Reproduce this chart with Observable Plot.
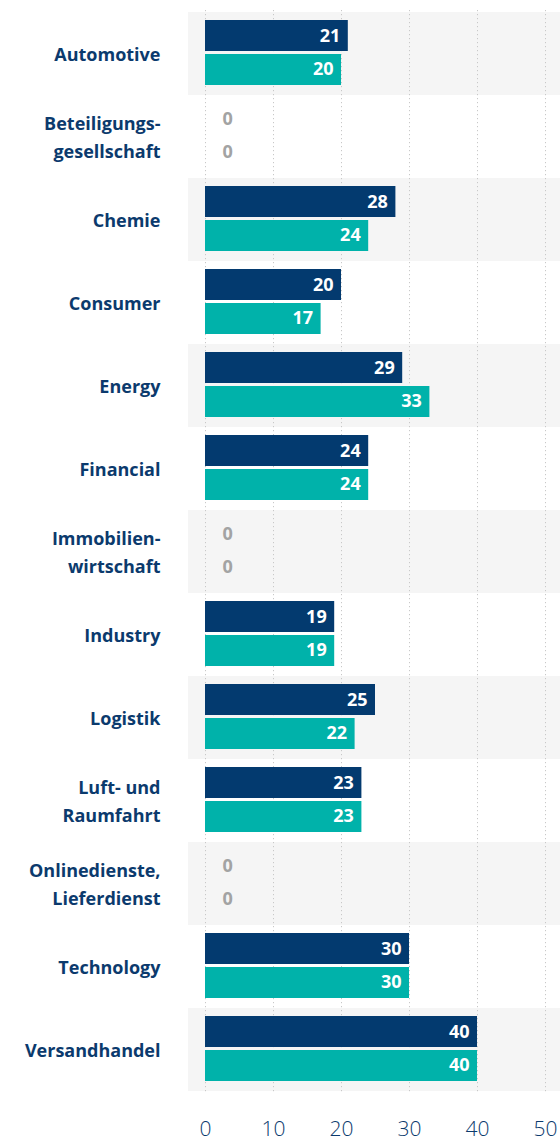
<!DOCTYPE html>
<html>
<head>
<meta charset="utf-8">
<script src="https://cdn.jsdelivr.net/npm/d3@7"></script>
<script src="https://cdn.jsdelivr.net/npm/@observablehq/plot@0.6"></script>
<style>
  html, body { margin: 0; padding: 0; background: #fff; }
  #chart svg { display: block; }
</style>
</head>
<body>
<div id="chart"></div>
<script>
const categories = ["Automotive", "Beteiligungsgesellschaft", "Chemie", "Consumer", "Energy", "Financial", "Immobilienwirtschaft", "Industry", "Logistik", "Luft- und Raumfahrt", "Onlinedienste, Lieferdienst", "Technology", "Versandhandel"];
const categoryLabels = ["Automotive", "Beteiligungs-\ngesellschaft", "Chemie", "Consumer", "Energy", "Financial", "Immobilien-\nwirtschaft", "Industry", "Logistik", "Luft- und\nRaumfahrt", "Onlinedienste,\nLieferdienst", "Technology", "Versandhandel"];
const series1 = [21, 0, 28, 20, 29, 24, 0, 19, 25, 23, 0, 30, 40];
const series2 = [20, 0, 24, 17, 33, 24, 0, 19, 22, 23, 0, 30, 40];
const xTicks = [0, 10, 20, 30, 40, 50];

const navy = "#033a6f";
const teal = "#00b2aa";
const labelColor = "#0b3a6d";
const font = "'Open Sans', Lato, sans-serif";

const rows1 = categories.map((c, i) => ({cat: c, value: series1[i]}));
const rows2 = categories.map((c, i) => ({cat: c, value: series2[i]}));
const shaded = categories.filter((c, i) => i % 2 === 0);
const labelOf = new Map(categories.map((c, i) => [c, categoryLabels[i]]));

const chart = Plot.plot({
  width: 560,
  height: 1146,
  marginLeft: 205,
  marginRight: 15,
  marginTop: 10,
  marginBottom: 54,
  style: {fontFamily: font, background: "#fff"},
  x: {domain: [0, 50], axis: null},
  y: {domain: categories, padding: 0, axis: null},
  marks: [
    Plot.cell(shaded, {y: d => d, fill: "#f5f5f5", insetLeft: -17, insetRight: -15}),
    Plot.ruleX(xTicks, {stroke: "#c8c8c8", strokeDasharray: "1.2,2.8", strokeWidth: 1}),
    Plot.barX(rows1, {y: "cat", x: "value", fill: navy, insetTop: 8, insetBottom: 44}),
    Plot.barX(rows2, {y: "cat", x: "value", fill: teal, insetTop: 42, insetBottom: 10}),
    Plot.text(rows1.filter(d => d.value > 0), {y: "cat", x: "value", text: d => String(d.value), dy: -18, dx: -8, textAnchor: "end", fill: "white", fontWeight: "bold", fontSize: 18}),
    Plot.text(rows2.filter(d => d.value > 0), {y: "cat", x: "value", text: d => String(d.value), dy: 15, dx: -8, textAnchor: "end", fill: "white", fontWeight: "bold", fontSize: 18}),
    Plot.text(rows1.filter(d => d.value === 0), {y: "cat", x: "value", text: d => String(d.value), dy: -18, dx: 17, textAnchor: "start", fill: "#a3a3a3", fontWeight: "bold", fontSize: 18}),
    Plot.text(rows2.filter(d => d.value === 0), {y: "cat", x: "value", text: d => String(d.value), dy: 15, dx: 17, textAnchor: "start", fill: "#a3a3a3", fontWeight: "bold", fontSize: 18}),
    Plot.text(categories, {y: d => d, frameAnchor: "left", text: d => labelOf.get(d), textAnchor: "end", dx: -45, dy: -2, fill: labelColor, fontWeight: "bold", fontSize: 18, lineHeight: 1.55}),
    Plot.text(xTicks, {x: d => d, frameAnchor: "bottom", text: d => String(d), dy: 43, fill: labelColor, fontWeight: 300, fontSize: 21})
  ]
});
document.getElementById("chart").appendChild(chart);
</script>
</body>
</html>
